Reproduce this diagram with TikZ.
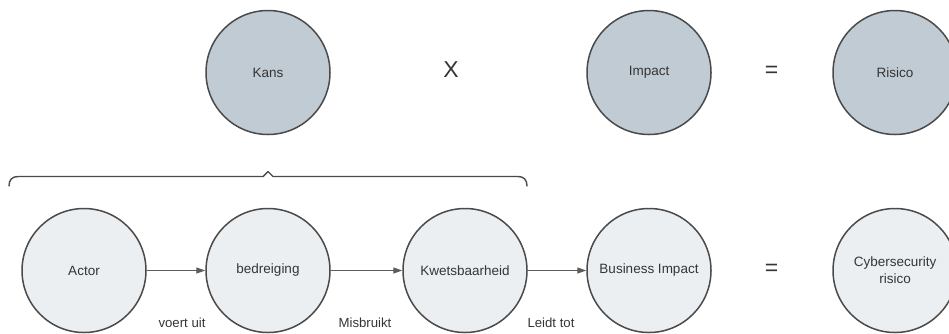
\documentclass[tikz,border=0pt]{standalone}
\usepackage{fontspec}
\setmainfont{Liberation Sans}
\usetikzlibrary{arrows.meta}
\definecolor{topfill}{HTML}{C0CBD4}
\definecolor{botfill}{HTML}{ECEFF2}
\definecolor{strokec}{HTML}{4A4A4A}
\definecolor{textc}{HTML}{353535}
\tikzset{
  circ/.style={circle, draw=strokec, line width=1.5pt, minimum size=124pt, inner sep=0pt,
    text=textc, font=\fontsize{13.5}{17}\selectfont, align=center},
  topc/.style={circ, fill=topfill},
  botc/.style={circ, fill=botfill},
  op/.style={text=textc, font=\fontsize{23}{25}\selectfont, inner sep=0pt},
  lbl/.style={text=textc, font=\fontsize{13.2}{15}\selectfont, inner sep=0pt},
  conn/.style={draw=strokec!90, line width=1.2pt, -{Triangle[length=9pt,width=6pt]}},
  bracec/.style={draw=strokec, line width=1.4pt, line cap=round, line join=round}
}
\begin{document}
\begin{tikzpicture}[x=1pt,y=-1pt]
\useasboundingbox (0,0) rectangle (949,333);
\clip (0,0) rectangle (949,333);
% top row
\node[topc] (kans) at (268,72.5) {Kans};
\node[op] (maal) at (451,70) {X};
\node[topc] (impact) at (649,72.5) {Impact};
\node[op] (is1) at (771.5,72) {=};
\node[topc] (risico) at (895,72.5) {Risico};
% brace
\draw[bracec] (9,186) .. controls (9,180) and (12,176.5) .. (18,176.5)
  -- (263,176.5) -- (268,171.5) -- (273,176.5) -- (518,176.5)
  .. controls (524,176.5) and (527,180) .. (527,186);
% bottom row
\node[botc] (actor) at (84,270.5) {Actor};
\node[botc] (bedr) at (268,270.5) {bedreiging};
\node[botc] (kwets) at (465,270.5) {Kwetsbaarheid};
\node[botc] (bimp) at (649,270.5) {Business Impact};
\node[op] (is2) at (771.5,270) {=};
\node[botc] (cyber) at (895,270.5) {Cybersecurity\\risico};
% connectors
\draw[conn] (actor) -- (bedr);
\draw[conn] (bedr) -- (kwets);
\draw[conn] (kwets) -- (bimp);
% labels
\node[lbl] (l1) at (182,323) {voert uit};
\node[lbl] (l2) at (365,323) {Misbruikt};
\node[lbl] (l3) at (551,323) {Leidt tot};
\end{tikzpicture}
\end{document}
